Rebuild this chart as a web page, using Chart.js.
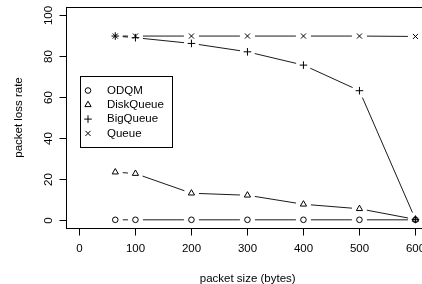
<!DOCTYPE html>
<html>
<head>
<meta charset="utf-8">
<script src="https://cdn.jsdelivr.net/npm/chart.js@4/dist/chart.umd.min.js"></script>
<style>
  html, body { margin: 0; padding: 0; background: #fff; }
  #wrap { width: 422px; height: 284px; position: relative; }
</style>
</head>
<body>
<div id="wrap"><canvas id="chart"></canvas></div>
<script>
// packet size (bytes) on the x axis, packet loss rate on the y axis
const packetSizes = [64, 100, 200, 300, 400, 500, 600];
const odqm = [0, 0, 0, 0, 0, 0, 0];
const diskQueue = [23.3, 22.6, 13.0, 12.0, 7.6, 5.4, 0.2];
const bigQueue = [89.8, 89.0, 86.2, 82.1, 75.6, 63.1, 0.2];
const queue = [89.8, 89.8, 89.8, 89.8, 89.8, 89.8, 89.6];

const seriesNames = ['ODQM', 'DiskQueue', 'BigQueue', 'Queue'];
const seriesMarks = ['circle', 'triangle', 'cross', 'crossRot'];
const xTicks = [0, 100, 200, 300, 400, 500, 600];
const yTicks = [0, 20, 40, 60, 80, 100];

const FONT = '11.5px "Liberation Sans", Arial, Helvetica, sans-serif';
const INK = '#000';

function pts(values) {
    return packetSizes.map((x, i) => ({ x, y: values[i] }));
}

function mark(name) {
    let i = seriesNames.indexOf(name);
    let r = [2.8, 3.6, 3.8, 3.6][i];
    return {
        label: name,
        data: pts([odqm, diskQueue, bigQueue, queue][i]),
        showLine: false,
        pointStyle: seriesMarks[i],
        pointRadius: r,
        pointHoverRadius: r,
        pointBorderWidth: 1,
        pointBorderColor: INK,
        pointBackgroundColor: 'rgba(0,0,0,0)',
        borderColor: INK,
    };
}

// R-ish look: lines with gaps at the points, box, outside ticks, rotated y labels
const rStyle = {
    id: 'rStyle',
    beforeDatasetsDraw(chart) {
        let ctx = chart.ctx;
        let gap = 7.5;
        ctx.save();
        ctx.strokeStyle = INK;
        ctx.lineWidth = 0.9;
        chart.data.datasets.forEach((ds, di) => {
            let meta = chart.getDatasetMeta(di);
            for (let i = 1; i < meta.data.length; i++) {
                let a = meta.data[i - 1], b = meta.data[i];
                let dx = b.x - a.x, dy = b.y - a.y;
                let len = Math.sqrt(dx * dx + dy * dy);
                if (len <= 2 * gap) continue;
                let ux = dx / len, uy = dy / len;
                ctx.beginPath();
                ctx.moveTo(a.x + ux * gap, a.y + uy * gap);
                ctx.lineTo(b.x - ux * gap, b.y - uy * gap);
                ctx.stroke();
            }
        });
        ctx.restore();
    },
    afterDraw(chart) {
        let ctx = chart.ctx;
        let area = chart.chartArea;
        let xs = chart.scales.x, ys = chart.scales.y;
        ctx.save();
        ctx.strokeStyle = INK;
        ctx.fillStyle = INK;
        ctx.lineWidth = 1;
        ctx.font = FONT;

        // plot box
        ctx.strokeRect(Math.round(area.left) + 0.5, Math.round(area.top) + 0.5,
            Math.round(area.right) - Math.round(area.left) + 4, Math.round(area.bottom) - Math.round(area.top));

        // x axis ticks and labels
        let xb = Math.round(area.bottom) + 0.5;
        ctx.textAlign = 'center';
        ctx.textBaseline = 'middle';
        xTicks.forEach(v => {
            let px = Math.round(xs.getPixelForValue(v)) + 0.5;
            ctx.beginPath();
            ctx.moveTo(px, xb);
            ctx.lineTo(px, xb + 7);
            ctx.stroke();
            ctx.fillText(String(v), px, 249);
        });

        // y axis ticks and rotated labels
        let yl = Math.round(area.left) + 0.5;
        yTicks.forEach(v => {
            let py = Math.round(ys.getPixelForValue(v)) + 0.5;
            ctx.beginPath();
            ctx.moveTo(yl, py);
            ctx.lineTo(yl - 7, py);
            ctx.stroke();
            ctx.save();
            ctx.translate(49, py);
            ctx.rotate(-Math.PI / 2);
            ctx.fillText(String(v), 0, 0);
            ctx.restore();
        });

        // axis titles
        ctx.fillText('packet size (bytes)', (area.left + 429.4) / 2, 278.5);
        ctx.save();
        ctx.translate(19, (area.top + area.bottom) / 2);
        ctx.rotate(-Math.PI / 2);
        ctx.fillText('packet loss rate', 0, 0);
        ctx.restore();

        // legend
        let lx = 80.5, ly = 76.5, lw = 92, lh = 71;
        ctx.fillStyle = '#fff';
        ctx.fillRect(lx, ly, lw, lh);
        ctx.strokeRect(lx, ly, lw, lh);
        chart.data.datasets.forEach((ds, i) => {
            let cy = 90.5 + i * 14.3;
            ctx.fillStyle = 'rgba(0,0,0,0)';
            Chart.helpers.drawPoint(ctx, {
                pointStyle: ds.pointStyle,
                radius: ds.pointRadius,
                borderWidth: 1,
            }, 88, cy);
            ctx.fillStyle = INK;
            ctx.textAlign = 'left';
            ctx.fillText(ds.label, 107, cy);
        });
        ctx.restore();
    }
};

new Chart(document.getElementById('chart'), {
    type: 'scatter',
    data: {
        datasets: seriesNames.map(mark),
    },
    options: {
        responsive: true,
        maintainAspectRatio: false,
        animation: false,
        devicePixelRatio: 1,
        layout: {
            autoPadding: false,
            padding: { left: 66, top: 7, right: 0, bottom: 56 },
        },
        scales: {
            x: { type: 'linear', display: false, min: -24, max: 611.7 },
            y: { type: 'linear', display: false, min: -4, max: 104 },
        },
        plugins: {
            legend: { display: false },
            tooltip: { enabled: false },
        },
    },
    plugins: [rStyle],
});
</script>
</body>
</html>
